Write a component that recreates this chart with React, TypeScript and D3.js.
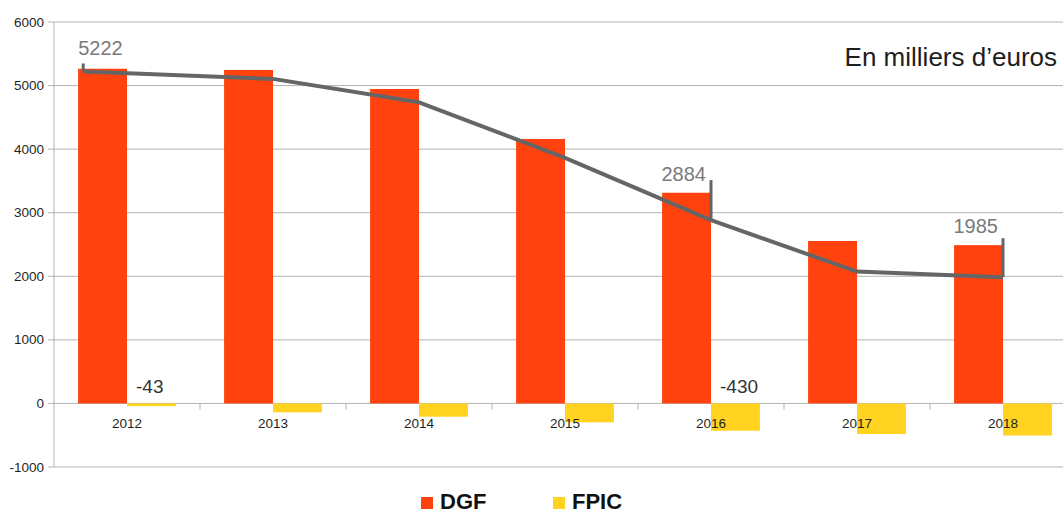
import React from 'react';
import * as d3 from 'd3';

// Dotations par année (en milliers d'euros)
const categories = ['2012', '2013', '2014', '2015', '2016', '2017', '2018'];
const dgfValues = [5265, 5245, 4946, 4160, 3314, 2555, 2490];
const fpicValues = [-43, -140, -209, -297, -430, -481, -505];
// Solde net DGF + FPIC
const netValues = [5222, 5105, 4737, 3863, 2884, 2074, 1985];
const yTicks = [-1000, 0, 1000, 2000, 3000, 4000, 5000, 6000];

// Points of the net line that carry a callout, and the FPIC bars that carry a value label
const netCallouts = [0, 4, 6];
const fpicLabelled = [0, 4];

const W = 1063;
const H = 514;
const FONT = '"Liberation Sans", Arial, Helvetica, sans-serif';
const DGF_COLOR = '#ff420e';
const FPIC_COLOR = '#ffd320';
const GRID = '#b3b3b3';
const LINE_COLOR = '#656565';

// Layout of the callouts (band-relative shift of the net point, lift of the leader)
const netShift = [-0.3, 0, 0, 0, 0, 0, 0];
const calloutLift: Record<number, number> = { 0: 8, 4: 40, 6: 39 };

export default function App() {
  const left = 54;
  const band = 146;
  const x = d3
    .scaleBand<string>()
    .domain(categories)
    .range([left, left + band * categories.length])
    .paddingInner(0)
    .paddingOuter(0);
  const y = d3.scaleLinear().domain([-1000, 6000]).range([467, 22]);

  const bw = x.bandwidth();
  const barW = bw * 0.335;
  const center = (i: number) => (x(categories[i]) as number) + bw * (0.5 + netShift[i]);

  const linePath = d3
    .line<number>()
    .x((_, i) => center(i))
    .y((d) => y(d))(netValues) as string;

  return (
    <svg
      width={W}
      height={H}
      style={{ position: 'absolute', left: 0, top: 0, background: '#fff' }}
      fontFamily={FONT}
    >
      {/* horizontal grid + y ticks */}
      {yTicks.map((t) => (
        <g key={t}>
          <line x1={48} x2={W} y1={y(t)} y2={y(t)} stroke={GRID} strokeWidth={1} />
          <text x={44} y={y(t) + 4.5} textAnchor="end" fontSize={13.5} fill="#1f1f1f">
            {t}
          </text>
        </g>
      ))}

      {/* bars */}
      {categories.map((c, i) => {
        const bx = (x(c) as number) + (bw - 2 * barW) / 2;
        return (
          <g key={c}>
            <rect
              x={bx}
              y={y(Math.max(0, dgfValues[i]))}
              width={barW}
              height={Math.abs(y(dgfValues[i]) - y(0))}
              fill={DGF_COLOR}
            />
            <rect
              x={bx + barW}
              y={y(Math.max(0, fpicValues[i]))}
              width={barW}
              height={Math.abs(y(fpicValues[i]) - y(0))}
              fill={FPIC_COLOR}
            />
          </g>
        );
      })}

      {/* y axis and category ticks */}
      <line x1={left} x2={left} y1={y(6000)} y2={y(-1000)} stroke={GRID} strokeWidth={1} />
      {categories.slice(1).map((c) => (
        <line
          key={c}
          x1={x(c) as number}
          x2={x(c) as number}
          y1={y(0)}
          y2={y(0) + 6}
          stroke={GRID}
          strokeWidth={1}
        />
      ))}

      {/* category labels */}
      {categories.map((c) => (
        <text
          key={c}
          x={(x(c) as number) + bw / 2}
          y={y(0) + 25}
          textAnchor="middle"
          fontSize={13.5}
          fill="#1f1f1f"
        >
          {c}
        </text>
      ))}

      {/* FPIC value labels */}
      {fpicLabelled.map((i) => {
        const bx = (x(categories[i]) as number) + (bw - 2 * barW) / 2 + barW;
        return (
          <text key={i} x={bx + 9} y={y(0) - 10} fontSize={19} fill="#333">
            {fpicValues[i]}
          </text>
        );
      })}

      {/* net line */}
      <path
        d={linePath}
        fill="none"
        stroke={LINE_COLOR}
        strokeWidth={4}
        strokeLinejoin="round"
      />

      {/* callouts on the net line */}
      {netCallouts.map((i) => {
        const px = center(i);
        const py = y(netValues[i]);
        const top = py - calloutLift[i];
        const first = i === 0;
        return (
          <g key={i}>
            <line x1={px} x2={px} y1={top} y2={py} stroke={LINE_COLOR} strokeWidth={3} />
            <text
              x={px - 5}
              y={first ? top - 8 : top + (i === 4 ? 1 : -5)}
              textAnchor={first ? 'start' : 'end'}
              fontSize={20}
              fill="#7a7a7a"
            >
              {netValues[i]}
            </text>
          </g>
        );
      })}

      {/* unit note */}
      <text x={1057} y={66} textAnchor="end" fontSize={26} fill="#1e1e1e">
        En milliers d’euros
      </text>

      {/* legend */}
      <rect x={421} y={497} width={12} height={12} fill={DGF_COLOR} />
      <text x={440} y={509} fontSize={22} fontWeight="bold" fill="#111">
        DGF
      </text>
      <rect x={553} y={497} width={12} height={12} fill={FPIC_COLOR} />
      <text x={572} y={509} fontSize={22} fontWeight="bold" fill="#111">
        FPIC
      </text>
    </svg>
  );
}
